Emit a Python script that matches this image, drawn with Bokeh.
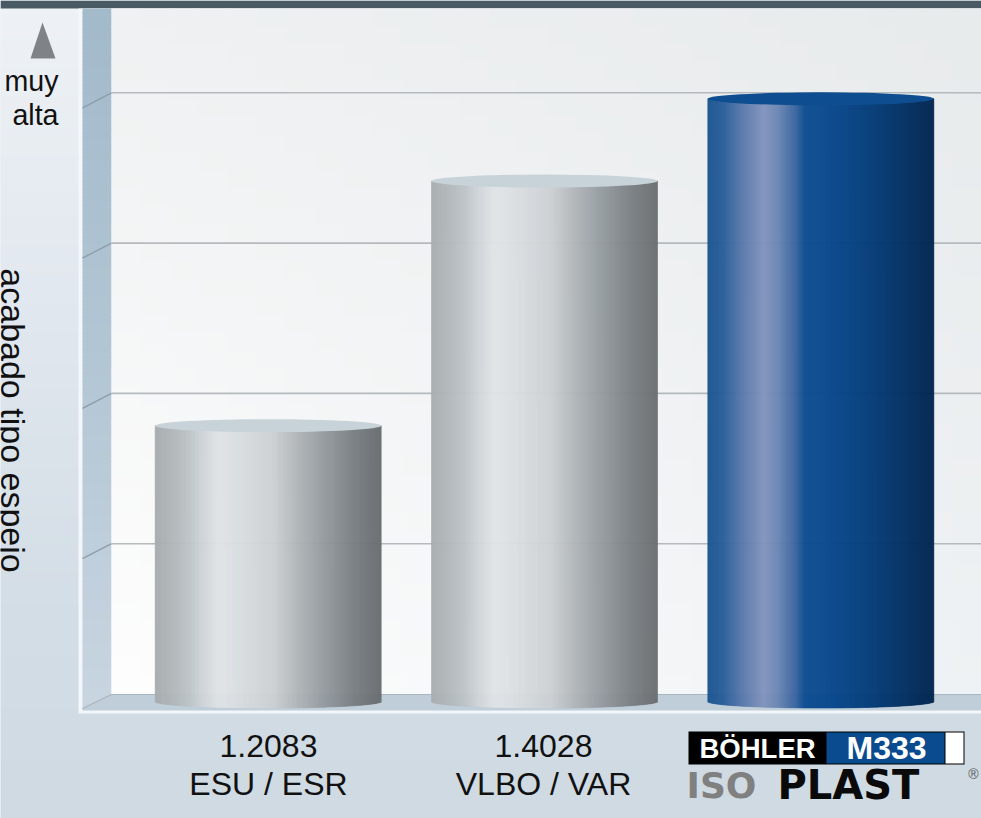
from bokeh.plotting import figure
from bokeh.models import Range1d
from bokeh.core.properties import value
from bokeh.embed import file_html
from bokeh.resources import INLINE
import numpy as np

# ---- chart data ----
codes = ["1.2083", "1.4028"]
processes = ["ESU / ESR", "VLBO / VAR"]
bar_values = [1.785, 3.413, 3.96]    # height in grid steps
grid_levels = [1, 2, 3, 4]
axis_label = "acabado tipo espejo"
top_label = ["muy", "alta"]
logo_top = ["BÖHLER", "M333"]
logo_bottom = ["ISO", "PLAST", "®"]

# ---- layout ----
L, T, W, H = 0, 0, 981, 818          # part of the picture the figure covers
FLOOR, STEP = 693.5, 150.3           # pixel of level 0, pixels per level
X0, XSTEP = 267.7, 276.3             # pixel of category 0, pixels per category
BAR_PX = 226
BAR_W = BAR_PX / XSTEP
FONT = value("Liberation Sans")


def lerp_colors(stops, t):
    fr = [s[0] for s in stops]
    rgb = np.array([[int(s[1][i:i + 2], 16) for i in (1, 3, 5)] for s in stops], float)
    c = [np.interp(t, fr, rgb[:, i]) for i in range(3)]
    return ["#%02x%02x%02x" % (int(a), int(b), int(d)) for a, b, d in zip(*c)]


GRAY = [(0, "#a8adb0"), (.08, "#b2b8bb"), (.15, "#bec4c8"), (.21, "#d0d5d9"), (.28, "#e0e4e7"),
        (.34, "#dde1e4"), (.53, "#ccd0d3"), (.63, "#b2b7ba"), (.73, "#9aa0a5"), (.88, "#7b8084"),
        (1, "#6a6e71")]
BLUE = [(0, "#1c5590"), (.07, "#2a5f9a"), (.145, "#5676aa"), (.25, "#8295bd"), (.31, "#6c87b4"),
        (.39, "#3a65a0"), (.43, "#0e4e92"), (.58, "#07468a"), (.75, "#053a74"), (1, "#022650")]

p = figure(width=W, height=H, output_backend="svg", toolbar_location=None,
           x_range=Range1d(L, L + W), y_range=Range1d(T + H, T),
           x_axis_location=None, y_axis_location=None, min_border=0,
           outline_line_color=None, background_fill_color="#dfe6ed")
p.grid.visible = False
p.extra_x_ranges = {"cat": Range1d((L - X0) / XSTEP, (L + W - X0) / XSTEP)}
p.extra_y_ranges = {"val": Range1d((FLOOR - T - H) / STEP, (FLOOR - T) / STEP)}

# page background, back wall and side wall gradients (strips overlap to avoid seams)
ys = np.arange(T, T + H, 4.0)
p.quad(left=L, right=L + W, top=ys, bottom=ys + 5, line_color=None,
       fill_color=lerp_colors([(8, "#eef2f6"), (300, "#e2e8ef"), (600, "#d4dee6"), (810, "#cfdae3")], ys))
# top band
p.quad(left=L, right=L + W, top=0, bottom=8, fill_color="#4a5a65", line_color=None)
# white frame
p.quad(left=78, right=L + W, top=8, bottom=713, fill_color="#f4f7f9", line_color=None)
ys = np.arange(8, 708, 4.0)
p.quad(left=82, right=111, top=ys, bottom=ys + 5, line_color=None,
       fill_color=lerp_colors([(8, "#a3bacb"), (350, "#b3c6d4"), (710, "#c9d6e1")], ys))

# back wall: soft two-way shading
cw, ch = 29.0, 18.0
wx, wy = np.meshgrid(np.arange(111, L + W, cw), np.arange(8, 694, ch))
wx, wy = wx.ravel(), wy.ravel()
u = (wx - 111) / 870
v_ = np.clip((wy - 8) / 686, 0, 1)
corners = np.array([[0xef, 0xf1, 0xf2], [0xe8, 0xeb, 0xec], [0xfe, 0xfe, 0xfe], [0xef, 0xf2, 0xf4]], float)
col = ((1 - u)[:, None] * (1 - v_)[:, None] * corners[0] + u[:, None] * (1 - v_)[:, None] * corners[1]
       + (1 - u)[:, None] * v_[:, None] * corners[2] + u[:, None] * v_[:, None] * corners[3])
p.quad(left=wx, right=wx + cw + 1, top=wy, bottom=np.minimum(wy + ch + 1, 694), line_color=None,
       fill_color=["#%02x%02x%02x" % tuple(int(k) for k in c) for c in col])

p.patch([82, 111, L + W, L + W, 82], [708, 694, 694, 710, 710], fill_color="#bfced9", line_color=None)
p.line([82, 111, L + W], [708, 694, 694], line_color="#a9b6bf", line_width=1.2)

# grid lines and their continuation across the side wall
for lv in grid_levels:
    yp = FLOOR - lv * STEP
    p.line([82, 111], [yp + 15, yp], line_color="#8c9ca8", line_width=1.3)
p.segment(x0=111, x1=L + W, y0=[FLOOR - lv * STEP for lv in grid_levels],
          y1=[FLOOR - lv * STEP for lv in grid_levels], line_color="#b5babd", line_width=1.6)

# cylinders
BASE = -0.05
CAP_H = 13 / STEP
CAP_B = 13 / STEP
strip = 1 / XSTEP
for i, v in enumerate(bar_values):
    stops = BLUE if i == 2 else GRAY
    t = (np.arange(BAR_PX) + 0.5) / BAR_PX
    xs = i - BAR_W / 2 + t * BAR_W
    bottoms = BASE - CAP_B / 2 * np.sqrt(np.clip(1 - (2 * t - 1) ** 2, 0, 1))
    cols = lerp_colors(stops, t)
    p.quad(left=xs - strip / 2, right=xs + strip / 2, top=v, bottom=bottoms, fill_color=cols, line_color=cols,
           line_width=0.6, x_range_name="cat", y_range_name="val")
    p.ellipse(x=[i], y=[v], width=BAR_W, height=CAP_H, x_range_name="cat", y_range_name="val",
              fill_color="#0e4e90" if i == 2 else "#c8d3d9", line_color=None)

# y-axis annotation
p.patch([42, 30, 55], [22, 58, 58], fill_color="#7f8387", line_color=None)
for txt, yb in zip(top_label, [80, 114]):
    p.text([58], [yb], text=[txt], text_font=FONT, text_font_size="28.6px", text_align="right",
           text_color="#111111", text_baseline="alphabetic")
p.text([12], [420], text=[axis_label], text_font=FONT, text_font_size="34px", angle=-np.pi / 2,
       text_align="center", text_color="#111111", text_baseline="alphabetic")

# category labels
for i, (c, pr) in enumerate(zip(codes, processes)):
    xp = 268 + i * 275
    p.text([xp], [745], text=[c], text_font=FONT, text_font_size="32px", text_align="center",
           text_color="#111111", text_baseline="alphabetic")
    p.text([xp], [783], text=[pr], text_font=FONT, text_font_size="32px", text_align="center",
           text_color="#111111", text_baseline="alphabetic")

# third category: product logo
p.quad(left=688, right=964, top=731, bottom=764, fill_color="#000000", line_color=None)
p.quad(left=826, right=944, top=732, bottom=763, fill_color="#0a4b8f", line_color=None)
p.quad(left=945, right=963, top=732, bottom=763, fill_color="#ffffff", line_color=None)
p.text([699], [748], text=[logo_top[0]], text_font=FONT, text_font_style="bold", text_font_size="27.5px",
       text_color="#ffffff", text_baseline="alphabetic")
p.text([886], [747], text=[logo_top[1]], text_font=FONT, text_font_style="bold", text_font_size="32px",
       text_align="center", text_color="#ffffff", text_baseline="alphabetic")
p.text([686], [785], text=[logo_bottom[0]], text_font=value("DejaVu Sans"), text_font_style="bold",
       text_font_size="36px", text_color="#808080", text_baseline="alphabetic")
p.text([777], [784], text=[logo_bottom[1]], text_font=value("DejaVu Sans"), text_font_style="bold",
       text_font_size="40px", text_color="#0a0a0a", text_baseline="alphabetic")
p.text([978], [773], text=[logo_bottom[2]], text_font=FONT, text_font_size="14px", text_align="right",
       text_color="#555555", text_baseline="alphabetic")

open("out.html", "w").write(file_html(p, INLINE))
